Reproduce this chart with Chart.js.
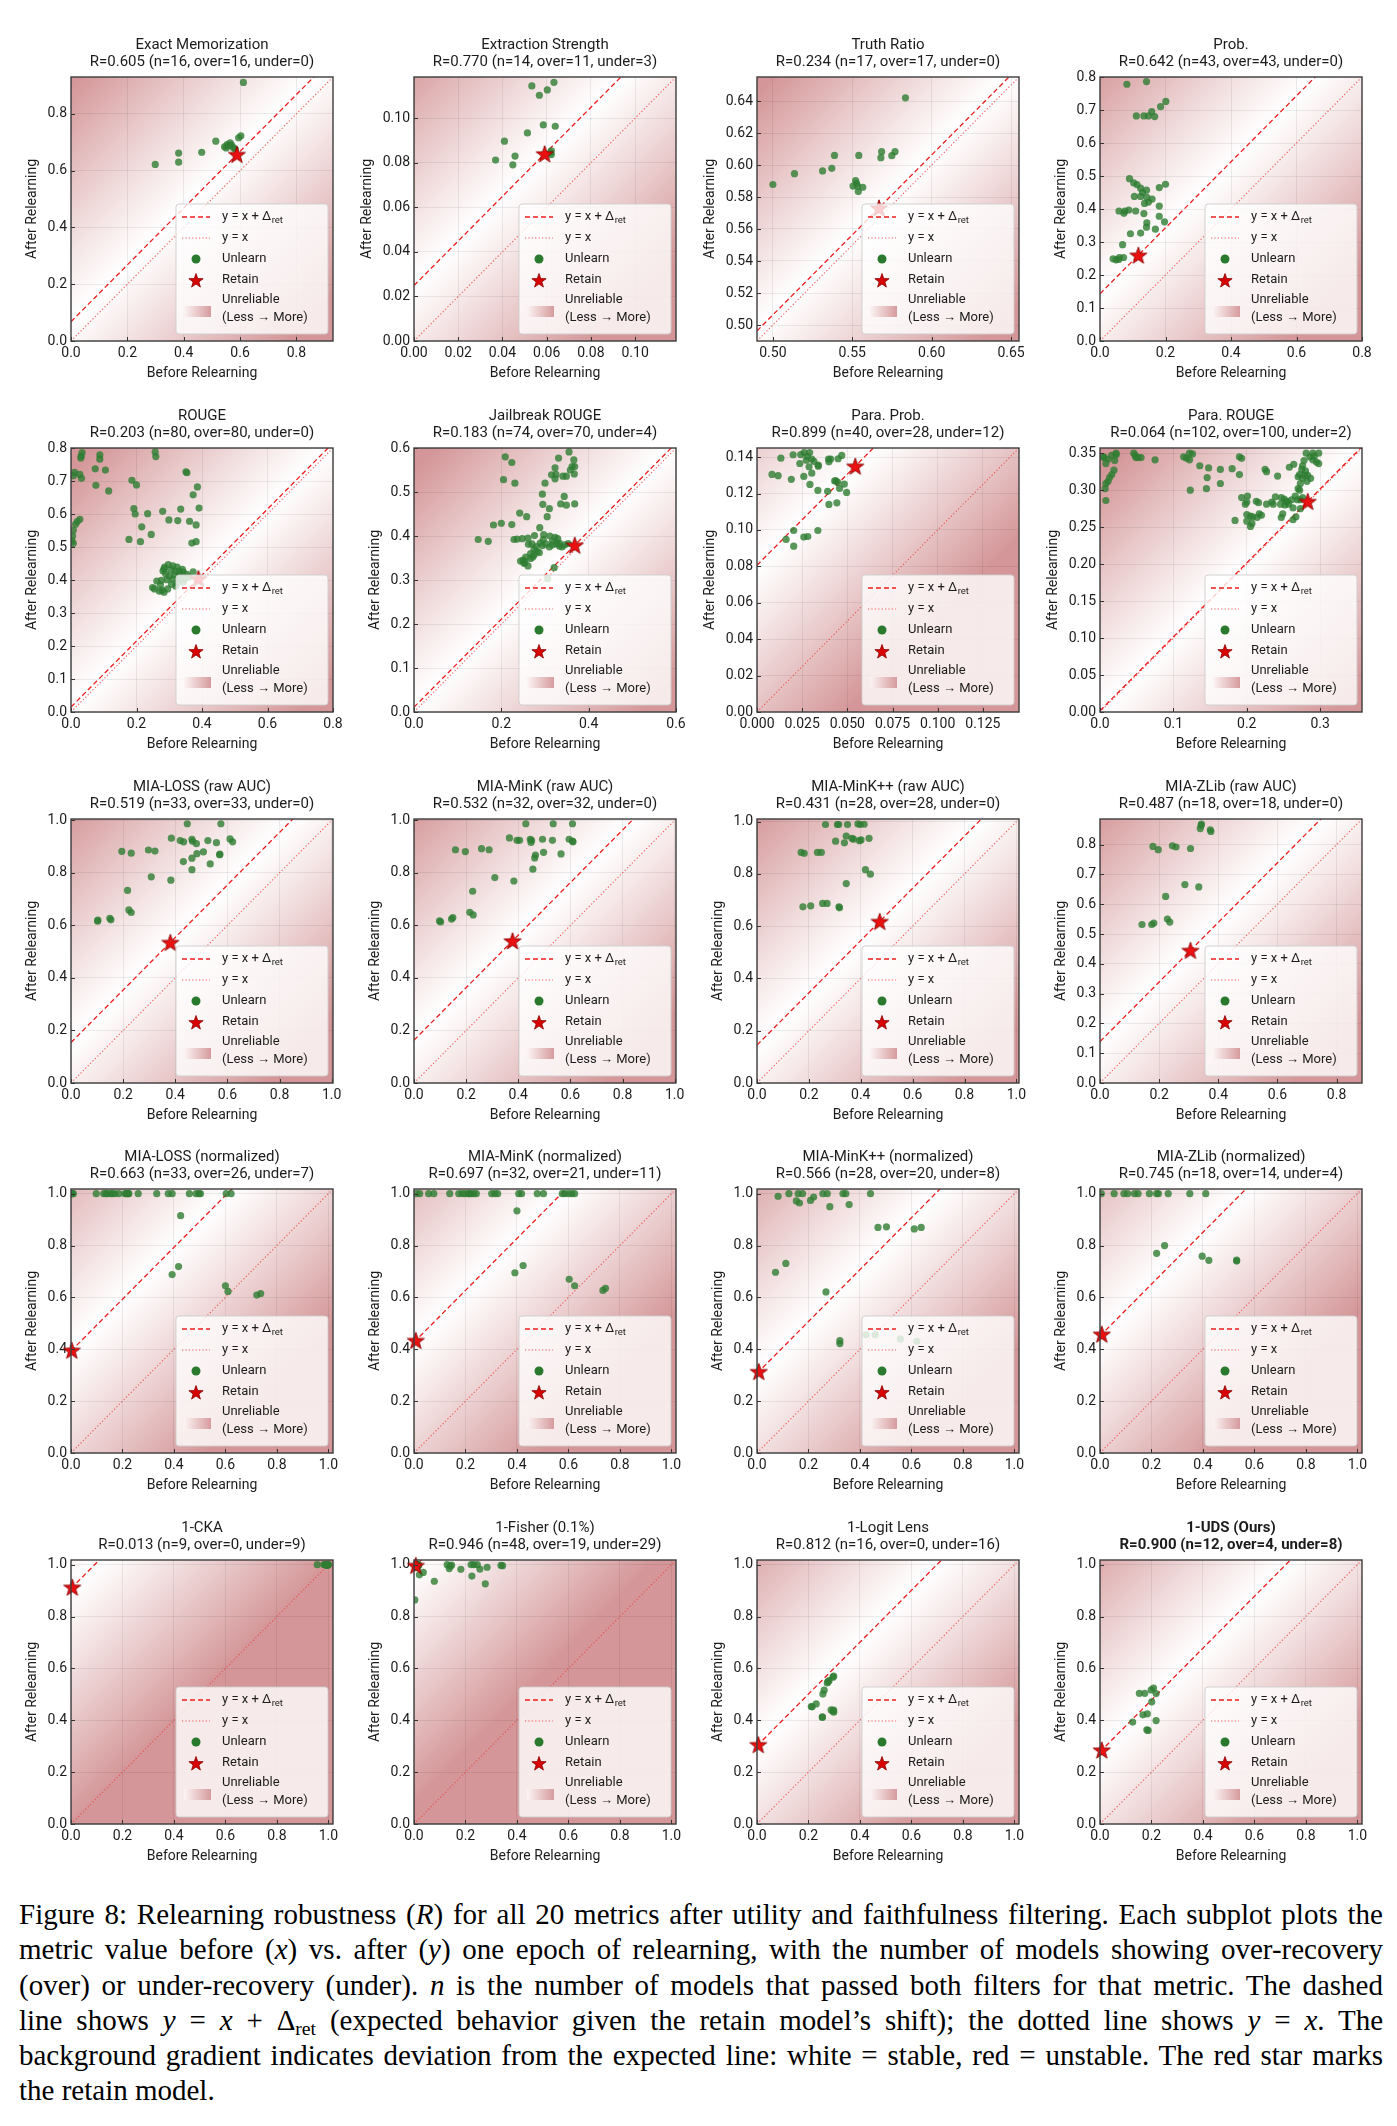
<!DOCTYPE html>
<html>
<head>
<meta charset="utf-8">
<script src="https://cdn.jsdelivr.net/npm/chart.js@4.4.0/dist/chart.umd.min.js"></script>
<style>
  body { margin: 0; background: #fff; width: 1397px; height: 2126px; position: relative; overflow: hidden; }
  canvas.cell { position: absolute; }
  #caption { position: absolute; left: 19px; top: 1897px; width: 1364px; font-family: "Liberation Serif", serif; font-size: 29px; line-height: 35.3px; color: #000; }
  #caption div { text-align: justify; text-align-last: justify; white-space: nowrap; }
  #caption div.last { text-align-last: left; }
  #caption sub { font-size: 0.68em; vertical-align: -0.25em; line-height: 0; }
</style>
</head>
<body>
<div id="caption">
  <div>Figure 8: Relearning robustness (<i>R</i>) for all 20 metrics after utility and faithfulness filtering. Each subplot plots the</div>
  <div>metric value before (<i>x</i>) vs. after (<i>y</i>) one epoch of relearning, with the number of models showing over-recovery</div>
  <div>(over) or under-recovery (under). <i>n</i> is the number of models that passed both filters for that metric. The dashed</div>
  <div>line shows <i>y</i> = <i>x</i> + Δ<sub>ret</sub> (expected behavior given the retain model’s shift); the dotted line shows <i>y</i> = <i>x</i>. The</div>
  <div>background gradient indicates deviation from the expected line: white = stable, red = unstable. The red star marks</div>
  <div class="last">the retain model.</div>
</div>
<script>
// ---------------------------------------------------------------- data
const titles = ["Exact Memorization", "Extraction Strength", "Truth Ratio", "Prob.",
  "ROUGE", "Jailbreak ROUGE", "Para. Prob.", "Para. ROUGE",
  "MIA-LOSS (raw AUC)", "MIA-MinK (raw AUC)", "MIA-MinK++ (raw AUC)", "MIA-ZLib (raw AUC)",
  "MIA-LOSS (normalized)", "MIA-MinK (normalized)", "MIA-MinK++ (normalized)", "MIA-ZLib (normalized)",
  "1-CKA", "1-Fisher (0.1%)", "1-Logit Lens", "1-UDS (Ours)"];

const stats = ["R=0.605 (n=16, over=16, under=0)", "R=0.770 (n=14, over=11, under=3)",
  "R=0.234 (n=17, over=17, under=0)", "R=0.642 (n=43, over=43, under=0)",
  "R=0.203 (n=80, over=80, under=0)", "R=0.183 (n=74, over=70, under=4)",
  "R=0.899 (n=40, over=28, under=12)", "R=0.064 (n=102, over=100, under=2)",
  "R=0.519 (n=33, over=33, under=0)", "R=0.532 (n=32, over=32, under=0)",
  "R=0.431 (n=28, over=28, under=0)", "R=0.487 (n=18, over=18, under=0)",
  "R=0.663 (n=33, over=26, under=7)", "R=0.697 (n=32, over=21, under=11)",
  "R=0.566 (n=28, over=20, under=8)", "R=0.745 (n=18, over=14, under=4)",
  "R=0.013 (n=9, over=0, under=9)", "R=0.946 (n=48, over=19, under=29)",
  "R=0.812 (n=16, over=0, under=16)", "R=0.900 (n=12, over=4, under=8)"];

const limits = [[0, 0.93], [0, 0.1185], [0.490, 0.655], [0, 0.8],
  [0, 0.8], [0, 0.6], [0, 0.145], [0, 0.357],
  [0, 1.005], [0, 1.005], [0, 1.01], [0, 0.886],
  [0, 1.018], [0, 1.018], [0, 1.018], [0, 1.018],
  [0, 1.018], [0, 1.018], [0, 1.018], [0, 1.018]];

const ticks10 = ["0.0", "0.2", "0.4", "0.6", "0.8", "1.0"];
const ticks08 = ["0.0", "0.2", "0.4", "0.6", "0.8"];
const ticks08fine = ["0.0", "0.1", "0.2", "0.3", "0.4", "0.5", "0.6", "0.7", "0.8"];
const ticksExtr = ["0.00", "0.02", "0.04", "0.06", "0.08", "0.10"];
const ticksTruthX = ["0.50", "0.55", "0.60", "0.65"];
const ticksTruthY = ["0.50", "0.52", "0.54", "0.56", "0.58", "0.60", "0.62", "0.64"];
const ticksJbX = ["0.0", "0.2", "0.4", "0.6"];
const ticksJbY = ["0.0", "0.1", "0.2", "0.3", "0.4", "0.5", "0.6"];
const ticksPpX = ["0.000", "0.025", "0.050", "0.075", "0.100", "0.125"];
const ticksPpY = ["0.00", "0.02", "0.04", "0.06", "0.08", "0.10", "0.12", "0.14"];
const ticksPrX = ["0.0", "0.1", "0.2", "0.3"];
const ticksPrY = ["0.00", "0.05", "0.10", "0.15", "0.20", "0.25", "0.30", "0.35"];

const xTicks = [ticks08, ticksExtr, ticksTruthX, ticks08, ticks08, ticksJbX, ticksPpX, ticksPrX,
  ticks10, ticks10, ticks10, ticks08, ticks10, ticks10, ticks10, ticks10, ticks10, ticks10, ticks10, ticks10];
const yTicks = [ticks08, ticksExtr, ticksTruthY, ticks08fine, ticks08fine, ticksJbY, ticksPpY, ticksPrY,
  ticks10, ticks10, ticks10, ticks08fine, ticks10, ticks10, ticks10, ticks10, ticks10, ticks10, ticks10, ticks10];

// retain model (before, after)
const retain = [[0.589, 0.657], [0.0591, 0.0840], [0.5668, 0.5731], [0.117, 0.260],
  [0.389, 0.404], [0.368, 0.379], [0.0544, 0.1350], [0.283, 0.2847],
  [0.381, 0.535], [0.378, 0.541], [0.473, 0.618], [0.306, 0.445],
  [0.003, 0.396], [0.007, 0.434], [0.007, 0.314], [0.007, 0.458],
  [0.005, 0.913], [0.007, 0.997], [0.005, 0.306], [0.007, 0.285]];

// unlearned models (before, after)
const unlearn = [
  [[0.612,0.911],[0.299,0.622],[0.382,0.662],[0.382,0.630],[0.464,0.665],[0.514,0.704],[0.545,0.684],[0.554,0.692],[0.565,0.698],[0.576,0.681],[0.595,0.716],[0.603,0.723],[0.551,0.680],[0.583,0.676],[0.560,0.688],[0.570,0.690]],
  [[0.0533,0.1145],[0.0633,0.1161],[0.0567,0.1103],[0.0603,0.1127],[0.0585,0.0970],[0.0639,0.0964],[0.0513,0.0934],[0.0409,0.0897],[0.0369,0.0812],[0.0457,0.0830],[0.0447,0.0791],[0.0621,0.0854],[0.0621,0.0837],[0.0617,0.0845]],
  [[0.5835,0.6420],[0.5000,0.5878],[0.5136,0.5946],[0.5313,0.5963],[0.5371,0.5979],[0.5388,0.6060],[0.5541,0.6060],[0.5685,0.6083],[0.5680,0.6046],[0.5749,0.6058],[0.5769,0.6083],[0.5521,0.5903],[0.5505,0.5868],[0.5533,0.5868],[0.5566,0.5861],[0.5538,0.5834],[0.5527,0.5886]],
  [[0.082,0.778],[0.142,0.786],[0.111,0.682],[0.134,0.682],[0.148,0.682],[0.158,0.695],[0.167,0.680],[0.185,0.710],[0.201,0.726],
   [0.090,0.492],[0.103,0.479],[0.113,0.474],[0.124,0.463],[0.142,0.457],[0.105,0.438],[0.124,0.438],[0.143,0.435],[0.148,0.421],[0.136,0.417],[0.181,0.465],[0.200,0.475],
   [0.058,0.394],[0.076,0.394],[0.088,0.397],[0.073,0.387],[0.134,0.386],[0.181,0.409],
   [0.143,0.358],[0.142,0.345],[0.181,0.378],[0.197,0.361],[0.169,0.339],
   [0.093,0.325],[0.124,0.327],[0.069,0.292],
   [0.040,0.249],[0.049,0.246],[0.059,0.253],[0.072,0.253],[0.057,0.247],
   [0.130,0.450],[0.159,0.430],[0.109,0.394]],
  [[0.034,0.786],[0.031,0.776],[0.030,0.770],[0.011,0.726],[0.007,0.716],[0.027,0.720],[0.032,0.708],[0.014,0.569],[0.027,0.584],[0.019,0.577],[0.007,0.551],[0.005,0.533],[0.007,0.511],[0.003,0.518],
   [0.088,0.779],[0.088,0.766],[0.074,0.737],[0.105,0.733],[0.076,0.687],[0.115,0.670],
   [0.257,0.788],[0.259,0.774],[0.186,0.702],[0.200,0.688],[0.351,0.728],[0.354,0.725],
   [0.386,0.682],[0.373,0.658],[0.391,0.618],
   [0.192,0.616],[0.196,0.600],[0.234,0.601],[0.280,0.608],[0.335,0.615],[0.299,0.582],[0.326,0.580],[0.362,0.578],[0.382,0.567],[0.216,0.561],[0.245,0.538],[0.177,0.523],[0.212,0.516],[0.369,0.512],[0.382,0.516],
   [0.284,0.434],[0.297,0.447],[0.311,0.443],[0.324,0.439],[0.281,0.427],[0.289,0.419],[0.318,0.427],[0.334,0.417],[0.343,0.424],[0.354,0.417],[0.373,0.425],[0.276,0.399],[0.293,0.401],[0.311,0.403],[0.334,0.402],[0.347,0.404],[0.324,0.391],[0.343,0.394],[0.249,0.377],[0.255,0.373],[0.278,0.369],[0.295,0.373],[0.284,0.363],[0.270,0.366],[0.307,0.387],[0.320,0.381],[0.262,0.397],[0.300,0.412],[0.316,0.415],[0.330,0.409],
   [0.286,0.439],[0.305,0.432],[0.340,0.432],[0.360,0.409],[0.273,0.385],[0.330,0.427]],
  [[0.355,0.591],[0.366,0.573],[0.331,0.577],[0.209,0.580],[0.224,0.567],[0.323,0.555],[0.362,0.558],[0.368,0.558],[0.358,0.550],[0.367,0.541],
   [0.325,0.540],[0.341,0.536],[0.349,0.536],[0.323,0.530],[0.205,0.528],[0.231,0.520],[0.300,0.520],[0.294,0.495],[0.344,0.490],[0.336,0.473],
   [0.295,0.472],[0.349,0.470],[0.368,0.473],[0.310,0.462],[0.242,0.452],[0.258,0.444],[0.305,0.444],[0.182,0.425],[0.200,0.429],[0.224,0.426],
   [0.288,0.419],[0.147,0.392],[0.170,0.388],[0.229,0.392],[0.248,0.394],[0.261,0.395],[0.276,0.401],[0.311,0.400],[0.296,0.392],[0.317,0.388],
   [0.327,0.382],[0.333,0.377],[0.270,0.382],[0.294,0.378],[0.310,0.375],[0.317,0.380],[0.333,0.384],[0.275,0.370],[0.282,0.364],[0.267,0.360],
   [0.256,0.352],[0.250,0.345],[0.254,0.340],[0.261,0.332],[0.275,0.357],[0.287,0.362],[0.321,0.328],[0.306,0.303],[0.345,0.380],[0.353,0.383],
   [0.339,0.375],[0.302,0.382],[0.280,0.376],[0.252,0.338],[0.267,0.349],
   [0.323,0.397],[0.297,0.403],[0.329,0.394],[0.262,0.381],[0.289,0.384],[0.244,0.343],[0.272,0.352],[0.315,0.539],[0.236,0.393]],
  [[0.0132,0.1394],[0.0200,0.1413],[0.0242,0.1414],[0.0261,0.1425],[0.0291,0.1425],[0.0273,0.1383],[0.0237,0.1365],[0.0303,0.1389],[0.0288,0.1347],[0.0339,0.1356],
   [0.0339,0.1350],[0.0396,0.1389],[0.0408,0.1389],[0.0398,0.1374],[0.0449,0.1391],[0.0469,0.1409],[0.0083,0.1305],[0.0117,0.1298],[0.0190,0.1278],[0.0259,0.1294],
   [0.0303,0.1312],[0.0293,0.1250],[0.0337,0.1217],[0.0391,0.1212],[0.0430,0.1269],[0.0447,0.1262],[0.0483,0.1252],[0.0457,0.1228],[0.0496,0.1206],[0.0398,0.1140],
   [0.0442,0.1149],[0.0203,0.0997],[0.0161,0.0948],[0.0203,0.0911],[0.0259,0.0961],[0.0281,0.0964],[0.0337,0.0997],[0.0278,0.1404],[0.0437,0.1269],[0.0315,0.1376]],
  [[0.005,0.344],[0.011,0.342],[0.020,0.340],[0.022,0.350],[0.022,0.348],[0.019,0.327],[0.016,0.321],[0.013,0.317],[0.011,0.312],[0.008,0.309],[0.007,0.302],[0.008,0.286],[0.016,0.347],[0.005,0.345],
   [0.046,0.350],[0.048,0.347],[0.052,0.344],[0.056,0.344],[0.049,0.344],[0.075,0.341],
   [0.114,0.345],[0.122,0.341],[0.122,0.350],[0.126,0.349],[0.136,0.333],[0.148,0.330],[0.164,0.328],[0.180,0.329],[0.190,0.345],[0.193,0.343],[0.190,0.321],[0.146,0.317],[0.145,0.302],[0.123,0.300],[0.164,0.309],[0.225,0.328],[0.227,0.325],[0.242,0.319],
   [0.281,0.350],[0.290,0.350],[0.298,0.350],[0.286,0.345],[0.290,0.341],[0.278,0.340],[0.295,0.338],[0.298,0.336],[0.276,0.333],[0.258,0.331],[0.264,0.335],[0.275,0.328],[0.280,0.326],[0.272,0.321],[0.279,0.320],[0.270,0.318],[0.283,0.320],[0.276,0.316],[0.273,0.309],[0.270,0.302],[0.272,0.300],
   [0.201,0.292],[0.200,0.284],[0.213,0.285],[0.227,0.281],[0.234,0.284],[0.239,0.291],[0.247,0.290],[0.251,0.288],[0.254,0.284],[0.257,0.281],[0.252,0.280],[0.261,0.287],[0.269,0.287],[0.273,0.287],[0.263,0.276],[0.273,0.275],[0.200,0.267],[0.205,0.265],[0.208,0.264],[0.217,0.268],[0.220,0.266],[0.184,0.259],[0.200,0.258],[0.207,0.255],[0.205,0.251],[0.247,0.263],[0.249,0.268],[0.263,0.260],[0.267,0.264],[0.198,0.281],
   [0.255,0.285],[0.246,0.281],[0.266,0.292],[0.276,0.290],[0.282,0.312],[0.287,0.316],[0.292,0.346],[0.193,0.290],[0.216,0.283],[0.236,0.281],[0.008,0.336],[0.118,0.343],[0.214,0.263]],
  [[0.446,0.987],[0.575,0.987],[0.385,0.932],[0.419,0.923],[0.432,0.918],[0.464,0.928],[0.466,0.920],[0.481,0.911],[0.525,0.923],[0.558,0.915],[0.610,0.929],[0.620,0.918],
   [0.195,0.882],[0.231,0.875],[0.297,0.887],[0.322,0.883],[0.483,0.873],[0.508,0.880],[0.464,0.856],[0.570,0.869],[0.431,0.843],[0.534,0.834],[0.464,0.812],
   [0.308,0.785],[0.383,0.772],[0.217,0.733],[0.222,0.659],[0.231,0.649],[0.103,0.620],[0.102,0.616],[0.149,0.627],[0.153,0.621],[0.571,0.871]],
  [[0.429,0.987],[0.534,0.987],[0.608,0.987],[0.366,0.933],[0.395,0.924],[0.405,0.924],[0.446,0.928],[0.449,0.916],[0.493,0.928],[0.531,0.924],[0.595,0.928],[0.608,0.921],[0.610,0.918],
   [0.159,0.888],[0.197,0.881],[0.259,0.892],[0.288,0.888],[0.497,0.878],[0.466,0.868],[0.463,0.857],[0.564,0.872],[0.456,0.814],[0.310,0.782],[0.383,0.769],[0.225,0.730],
   [0.214,0.650],[0.227,0.640],[0.098,0.617],[0.102,0.613],[0.144,0.624],[0.149,0.630],[0.451,0.924]],
  [[0.264,0.989],[0.310,0.989],[0.315,0.989],[0.349,0.989],[0.389,0.991],[0.398,0.989],[0.413,0.990],[0.344,0.945],[0.366,0.936],[0.372,0.933],[0.395,0.927],[0.401,0.930],[0.432,0.936],[0.303,0.925],
   [0.337,0.919],[0.170,0.882],[0.182,0.879],[0.233,0.882],[0.248,0.882],[0.418,0.816],[0.437,0.799],[0.344,0.763],[0.177,0.674],[0.207,0.678],[0.253,0.687],[0.270,0.687],[0.316,0.674],[0.318,0.670]],
  [[0.343,0.869],[0.339,0.854],[0.373,0.850],[0.375,0.844],[0.179,0.794],[0.197,0.783],[0.245,0.796],[0.257,0.792],[0.306,0.787],[0.287,0.666],[0.334,0.658],[0.222,0.626],
   [0.228,0.550],[0.236,0.540],[0.142,0.532],[0.175,0.532],[0.182,0.537],[0.342,0.865]],
  [[0.003,1.0],[0.009,1.0],[0.098,1.0],[0.127,1.0],[0.136,1.0],[0.153,1.0],[0.170,1.0],[0.186,1.0],[0.210,1.0],[0.215,1.0],[0.222,1.0],[0.261,1.0],[0.333,1.0],[0.378,1.0],[0.393,1.0],[0.460,1.0],[0.486,1.0],[0.497,1.0],[0.503,1.0],[0.603,1.0],[0.622,1.0],
   [0.426,0.915],[0.418,0.719],[0.393,0.688],[0.600,0.645],[0.610,0.623],[0.722,0.609],[0.737,0.615],
   [0.220,1.0],[0.225,1.0],[0.140,1.0],[0.160,1.0],[0.005,1.0]],
  [[0.009,1.0],[0.022,1.0],[0.057,1.0],[0.077,1.0],[0.139,1.0],[0.174,1.0],[0.187,1.0],[0.198,1.0],[0.211,1.0],[0.222,1.0],[0.232,1.0],[0.242,1.0],[0.302,1.0],[0.314,1.0],[0.325,1.0],[0.407,1.0],[0.418,1.0],[0.479,1.0],[0.503,1.0],[0.576,1.0],[0.586,1.0],[0.613,1.0],[0.624,1.0],
   [0.400,0.934],[0.424,0.723],[0.392,0.695],[0.603,0.670],[0.624,0.645],[0.734,0.627],[0.744,0.635],[0.215,1.0],[0.600,1.0]],
  [[0.082,0.990],[0.124,1.0],[0.160,1.0],[0.177,1.0],[0.256,1.0],[0.273,1.0],[0.334,1.0],[0.345,1.0],[0.441,1.0],[0.153,0.972],[0.165,0.964],[0.208,0.974],[0.220,0.987],[0.283,0.950],
   [0.358,0.958],[0.470,0.870],[0.503,0.872],[0.611,0.864],[0.638,0.870],[0.072,0.697],[0.112,0.731],[0.268,0.621],[0.322,0.433],[0.322,0.422],[0.424,0.456],[0.460,0.456],[0.557,0.440],[0.621,0.431]],
  [[0.005,1.0],[0.055,1.0],[0.093,1.0],[0.107,1.0],[0.134,1.0],[0.148,1.0],[0.192,1.0],[0.220,1.0],[0.227,1.0],[0.265,1.0],[0.349,1.0],[0.411,1.0],
   [0.220,0.770],[0.251,0.800],[0.397,0.759],[0.423,0.743],[0.531,0.744],[0.531,0.740]],
  [[0.957,1.0],[0.983,1.0],[0.995,1.0],[1.0,1.0],[0.992,0.998],[0.998,0.999],[0.987,1.0],[0.999,1.0],[0.996,0.997]],
  [[0.129,1.0],[0.141,0.995],[0.137,0.985],[0.146,0.998],[0.222,1.0],[0.232,1.0],[0.246,1.0],[0.256,0.983],[0.284,0.990],[0.338,0.997],[0.344,0.996],[0.182,0.982],[0.225,0.956],[0.277,0.926],[0.079,0.936],[0.036,0.970],[0.021,0.961],[0.017,0.998],[0.003,0.864],[0.012,1.0],
   [0.002,1.0],[0.004,0.998],[0.006,0.996],[0.008,1.0],[0.010,0.994],[0.001,0.997],[0.003,0.992],[0.005,0.999],[0.007,0.991],[0.009,0.997],[0.011,0.995],[0.013,0.999],[0.014,0.993],[0.015,1.0],
   [0.002,0.995],[0.004,0.989],[0.006,1.0],[0.008,0.993],[0.010,0.999],[0.012,0.990],[0.001,1.0],[0.003,0.998],[0.005,0.994],[0.007,0.998],[0.009,1.0],[0.011,0.998],[0.016,0.996],[0.018,0.999]],
  [[0.298,0.570],[0.295,0.566],[0.280,0.553],[0.273,0.544],[0.261,0.516],[0.256,0.501],[0.211,0.453],[0.230,0.463],[0.254,0.413],[0.288,0.440],[0.298,0.431],[0.295,0.436],[0.214,0.452],[0.276,0.549],[0.254,0.411],[0.298,0.439]],
  [[0.199,0.517],[0.208,0.524],[0.218,0.503],[0.153,0.504],[0.174,0.504],[0.201,0.471],[0.167,0.421],[0.184,0.425],[0.127,0.393],[0.218,0.399],[0.182,0.363],[0.187,0.361]]
];

// ---------------------------------------------------------------- styles
const RED = [212, 150, 152];
const TXT = '#1c1c1c';
Chart.defaults.font.family = 'Roboto';

function shade(t) {
  const c = RED.map(v => Math.round(255 - (255 - v) * t));
  return 'rgb(' + c.join(',') + ')';
}

function starPath(ctx, cx, cy, r) {
  ctx.beginPath();
  for (let i = 0; i < 10; i++) {
    const a = -Math.PI / 2 + i * Math.PI / 5;
    const rr = i % 2 ? r * 0.4 : r;
    ctx.lineTo(cx + rr * Math.cos(a), cy + rr * Math.sin(a));
  }
  ctx.closePath();
}

function makeStar(r) {
  const c = document.createElement('canvas');
  const s = Math.ceil(r * 2 + 4);
  c.width = s; c.height = s;
  const g = c.getContext('2d');
  starPath(g, s / 2, s / 2 + 0.8, r);
  g.fillStyle = '#ec1111'; g.fill();
  g.strokeStyle = '#8a0000'; g.lineWidth = 0.9; g.stroke();
  return c;
}
const starImg = makeStar(9);

// ---------------------------------------------------------------- drawing helpers
function paintBackground(chart) {
  const k = chart.options.plugins.fig.k;
  const a = chart.chartArea, ctx = chart.ctx;
  const sx = chart.scales.x, sy = chart.scales.y;
  const lo = limits[k][0], hi = limits[k][1], r = hi - lo;
  const d = retain[k][1] - retain[k][0];
  const gx = -r / a.width, gy = -r / a.height;
  const gl = Math.hypot(gx, gy);
  const ux = gx / gl, uy = gy / gl;
  const L = 0.9 * r / gl;
  const ox = sx.getPixelForValue(lo), oy = sy.getPixelForValue(lo + d);
  const g = ctx.createLinearGradient(ox - ux * L, oy - uy * L, ox + ux * L, oy + uy * L);
  for (let i = 0; i <= 40; i++) {
    const s = i / 40;
    g.addColorStop(s, shade(Math.pow(Math.abs(2 * s - 1), 1.1)));
  }
  ctx.save();
  ctx.fillStyle = g;
  ctx.fillRect(a.left, a.top, a.width, a.height);
  ctx.restore();
}

function drawLegend(ctx, a) {
  const w = 152, h = 130;
  const x0 = a.right - 5 - w, y0 = a.bottom - 7 - h;
  ctx.save();
  ctx.beginPath();
  ctx.roundRect(x0, y0, w, h, 3);
  ctx.fillStyle = 'rgba(255,255,255,0.8)';
  ctx.fill();
  ctx.strokeStyle = 'rgba(205,205,205,0.9)';
  ctx.lineWidth = 1;
  ctx.stroke();

  const hx0 = x0 + 6, hx1 = x0 + 34, tx = x0 + 46;
  ctx.lineWidth = 1.4;
  ctx.strokeStyle = '#ec1c1c';
  ctx.setLineDash([5, 3]);
  ctx.beginPath(); ctx.moveTo(hx0, y0 + 13); ctx.lineTo(hx1, y0 + 13); ctx.stroke();
  ctx.strokeStyle = 'rgba(240,70,70,0.9)';
  ctx.lineWidth = 1.1;
  ctx.setLineDash([1.2, 2.2]);
  ctx.beginPath(); ctx.moveTo(hx0, y0 + 34); ctx.lineTo(hx1, y0 + 34); ctx.stroke();
  ctx.setLineDash([]);

  ctx.fillStyle = '#2a7a2e';
  ctx.beginPath(); ctx.arc(x0 + 20, y0 + 55, 4.5, 0, Math.PI * 2); ctx.fill();

  starPath(ctx, x0 + 20, y0 + 77, 7.5);
  ctx.fillStyle = '#d90000'; ctx.fill();
  ctx.strokeStyle = '#8a0000'; ctx.lineWidth = 0.8; ctx.stroke();

  const pg = ctx.createLinearGradient(x0 + 8, 0, x0 + 35, 0);
  pg.addColorStop(0, 'rgb(252,244,244)');
  pg.addColorStop(1, shade(0.95));
  ctx.fillStyle = pg;
  ctx.fillRect(x0 + 8, y0 + 102, 27, 11);

  ctx.fillStyle = TXT;
  ctx.font = '13px Roboto';
  ctx.textBaseline = 'middle';
  ctx.textAlign = 'left';
  const main = 'y = x + Δ';
  ctx.fillText(main, tx, y0 + 13);
  const mw = ctx.measureText(main).width;
  ctx.font = '9.5px Roboto';
  ctx.fillText('ret', tx + mw + 0.5, y0 + 17);
  ctx.font = '13px Roboto';
  ctx.fillText('y = x', tx, y0 + 34);
  ctx.fillText('Unlearn', tx, y0 + 55);
  ctx.fillText('Retain', tx, y0 + 76);
  ctx.fillText('Unreliable', tx, y0 + 96);
  ctx.fillText('(Less \u2192 More)', tx, y0 + 114);
  ctx.restore();
}

function drawOverlay(chart) {
  const k = chart.options.plugins.fig.k;
  const a = chart.chartArea, ctx = chart.ctx;
  const sx = chart.scales.x, sy = chart.scales.y;

  drawLegend(ctx, a);

  ctx.save();
  // inward tick marks
  ctx.strokeStyle = '#333';
  ctx.lineWidth = 1;
  ctx.beginPath();
  xTicks[k].forEach(t => {
    const p = Math.round(sx.getPixelForValue(parseFloat(t))) + 0.5;
    ctx.moveTo(p, a.bottom); ctx.lineTo(p, a.bottom - 4);
  });
  yTicks[k].forEach(t => {
    const p = Math.round(sy.getPixelForValue(parseFloat(t))) + 0.5;
    ctx.moveTo(a.left, p); ctx.lineTo(a.left + 4, p);
  });
  ctx.stroke();

  // frame
  ctx.strokeStyle = '#3c3c3c';
  ctx.lineWidth = 1.4;
  ctx.strokeRect(a.left, a.top, a.width, a.height);

  // titles
  const cx = (a.left + a.right) / 2;
  const isOurs = k === 19;
  ctx.fillStyle = TXT;
  ctx.textAlign = 'center';
  ctx.textBaseline = 'middle';
  ctx.font = (isOurs ? 'bold ' : '') + '15px Roboto';
  ctx.fillText(titles[k], cx, a.top - 32);
  ctx.fillText(stats[k], cx, a.top - 14.5);

  // axis titles
  ctx.font = '14px Roboto';
  ctx.fillText('Before Relearning', cx, a.bottom + 32);
  let lw = 0;
  yTicks[k].forEach(t => { lw = Math.max(lw, ctx.measureText(t).width); });
  const yx = a.left - 4 - lw - 15;
  ctx.translate(yx, (a.top + a.bottom) / 2);
  ctx.rotate(-Math.PI / 2);
  ctx.fillText('After Relearning', 0, 0);
  ctx.restore();
}

const figPlugin = {
  id: 'fig',
  beforeDraw(chart) { paintBackground(chart); },
  afterDraw(chart) { drawOverlay(chart); }
};

// ---------------------------------------------------------------- charts
function axis(lo, hi, labels, horizontal) {
  return {
    type: 'linear', min: lo, max: hi,
    afterBuildTicks: s => { s.ticks = labels.map(t => ({ value: parseFloat(t) })); },
    afterFit: s => {
      if (horizontal) s.height = 56; else s.width = 71;
      s.paddingLeft = 0; s.paddingRight = 0; s.paddingTop = 0; s.paddingBottom = 0;
    },
    ticks: {
      autoSkip: false, maxRotation: 0, minRotation: 0, padding: 4,
      color: TXT, font: { family: 'Roboto', size: 14 },
      callback: (v, i) => labels[i]
    },
    grid: { color: 'rgba(0,0,0,0.09)', lineWidth: 0.8, drawTicks: false },
    border: { display: false }
  };
}

function makeChart(canvas, k) {
  const lo = limits[k][0], hi = limits[k][1];
  const d = retain[k][1] - retain[k][0];
  new Chart(canvas, {
    type: 'scatter',
    data: {
      datasets: [
        { label: 'Retain', data: [{ x: retain[k][0], y: retain[k][1] }], pointStyle: starImg, pointRadius: 9, clip: false },
        { label: 'Unlearn', data: unlearn[k].map(p => ({ x: p[0], y: p[1] })), pointRadius: 3.6,
          backgroundColor: 'rgba(46,125,50,0.8)', borderWidth: 0 },
        { label: 'y = x + Δret', data: [{ x: lo, y: lo + d }, { x: hi, y: hi + d }], showLine: true, pointRadius: 0,
          borderColor: '#ec1c1c', borderWidth: 1.3, borderDash: [5, 3] },
        { label: 'y = x', data: [{ x: lo, y: lo }, { x: hi, y: hi }], showLine: true, pointRadius: 0,
          borderColor: 'rgba(240,70,70,0.9)', borderWidth: 1.1, borderDash: [1.2, 2.2] }
      ]
    },
    options: {
      responsive: false,
      animation: false,
      events: [],
      layout: { padding: { top: 52, right: 8, left: 0, bottom: 0 } },
      plugins: { legend: { display: false }, tooltip: { enabled: false }, fig: { k: k } },
      scales: { x: axis(lo, hi, xTicks[k], true), y: axis(lo, hi, yTicks[k], false) }
    },
    plugins: [figPlugin]
  });
}

for (let k = 0; k < 20; k++) {
  const cv = document.createElement('canvas');
  cv.className = 'cell';
  cv.width = 343; cv.height = 372;
  cv.style.left = (k % 4) * 343 + 'px';
  cv.style.top = (25 + Math.floor(k / 4) * 370.75) + 'px';
  document.body.appendChild(cv);
  makeChart(cv, k);
}
</script>
</body>
</html>
